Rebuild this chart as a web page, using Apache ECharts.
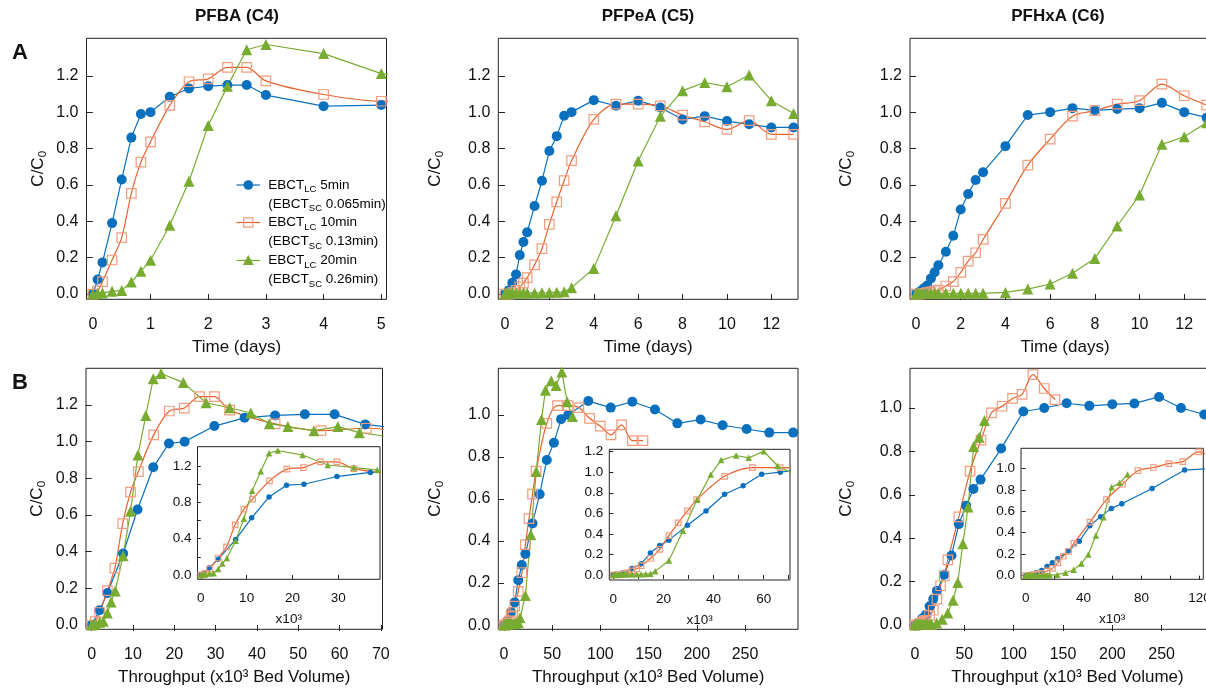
<!DOCTYPE html>
<html><head><meta charset="utf-8">
<script src="https://cdn.jsdelivr.net/npm/echarts@6/dist/echarts.min.js"></script>
<style>html,body{margin:0;padding:0;background:#fff}#c{width:1206px;height:689px}</style>
</head><body><div id="c"></div>
<script>
// ---------------- DATA ----------------
// PFBA (C4)
const pfbaBlueT   = [0,0.083,0.167,0.333,0.5,0.667,0.833,1,1.333,1.667,2,2.333,2.667,3,4,5];
const pfbaBlueBV  = [0,1.9,3.8,7.6,11.1,14.9,18.7,22.5,29.7,37.0,44.4,51.6,58.8,66.2,88.7,110.9];
const pfbaBlueC   = [0,0.08,0.174,0.39,0.63,0.86,0.99,1.0,1.085,1.13,1.143,1.149,1.149,1.094,1.033,1.039];
const pfbaOrangeT  = [0,0.083,0.167,0.333,0.5,0.667,0.833,1,1.333,1.667,2,2.333,2.667,3,4,5,6,7];
const pfbaOrangeBV = [0,0.9,1.9,3.8,5.6,7.5,9.4,11.3,15.0,18.8,22.4,26.1,29.7,33.4,44.4,55.5,66.5,77.5];
const pfbaOrangeC  = [0,0.018,0.068,0.187,0.31,0.553,0.725,0.837,1.037,1.167,1.183,1.246,1.246,1.172,1.097,1.06,1.073,1.05];
const pfbaGreenT  = [0,0.083,0.167,0.333,0.5,0.667,0.833,1,1.333,1.667,2,2.333,2.667,3,4,5,6,7,8,9,10,11,12,13];
const pfbaGreenBV = [0,0.5,0.9,1.9,2.8,3.8,4.7,5.7,7.6,9.4,11.2,13.1,14.9,16.8,22.2,27.7,33.4,38.5,43.0,47.5,53.8,59.6,64.8,71.0];
const pfbaGreenC  = [0,0.004,0.006,0.015,0.02,0.066,0.125,0.186,0.378,0.62,0.927,1.143,1.343,1.372,1.322,1.212,1.185,1.156,1.098,1.082,1.06,1.082,1.049,1.03];

// PFPeA (C5)
const pfpeaBlueT  = [0,0.083,0.167,0.333,0.5,0.667,0.833,1,1.333,1.667,2,2.333,2.667,3,4,5,6,7,8,9,10,11,12,13];
const pfpeaBlueBV = [0,1.9,3.7,7.4,11.1,14.8,18.5,22.2,29.6,37.0,44.4,51.8,59.2,66.6,87.5,110.7,133.1,156.6,179.8,204.0,226.8,251.7,275.2,300.0];
const pfpeaBlueC  = [0,0.005,0.02,0.062,0.108,0.214,0.286,0.339,0.484,0.623,0.786,0.868,0.98,1.0,1.066,1.035,1.063,1.026,0.96,0.978,0.951,0.933,0.916,0.916];
const pfpeaOrangeT  = [0,0.167,0.333,0.5,0.667,0.833,1,1.333,1.667,2,2.333,2.667,3,4,5,6,7,8,9,10,11,12,13];
const pfpeaOrangeBV = [0,1.9,3.7,5.6,7.4,9.3,11.1,14.8,18.5,22.2,25.9,29.6,33.3,44.4,55.5,66.6,77.7,88.8,99.9,111.0,122.0,133.1,144.2];
const pfpeaOrangeC  = [0,0.0,0.008,0.02,0.04,0.06,0.09,0.16,0.25,0.383,0.507,0.623,0.733,0.96,1.044,1.044,1.035,0.984,0.947,0.905,0.953,0.878,0.878];
const pfpeaGreenT  = [0,0.083,0.167,0.333,0.5,0.667,0.833,1,1.333,1.667,2,2.333,2.667,3,4,5,6,7,8,9,10,11,12,13];
const pfpeaGreenBV = [0,0.5,0.9,1.9,2.8,3.7,4.6,5.6,7.4,9.3,11.1,13.0,14.8,16.7,22.2,27.8,33.4,38.9,43.0,49.0,54.0,60.0,65.5,71.0];
const pfpeaGreenC  = [0,0.004,0.005,0.005,0.005,0.006,0.006,0.006,0.006,0.007,0.008,0.01,0.012,0.035,0.141,0.43,0.731,0.978,1.118,1.163,1.14,1.204,1.063,0.993];

// PFHxA (C6)
const pfhxaBlueT  = [0,0.083,0.167,0.333,0.5,0.667,0.833,1,1.333,1.667,2,2.333,2.667,3,4,5,6,7,8,9,10,11,12,13];
const pfhxaBlueBV = [0,1.9,3.7,7.4,11.1,14.8,18.5,22.2,29.6,37.0,44.4,51.8,59.2,66.4,87.3,109.8,131.0,153.7,176.7,200.0,222.3,247.3,269.6,293.2];
const pfhxaBlueC  = [0,0.005,0.012,0.03,0.047,0.086,0.12,0.158,0.232,0.32,0.465,0.55,0.627,0.67,0.813,0.984,1.0,1.022,1.01,1.017,1.021,1.051,1.0,0.97];
const pfhxaOrangeT  = [0,0.167,0.333,0.5,0.667,0.833,1,1.333,1.667,2,2.333,2.667,3,4,5,6,7,8,9,10,11,12,13];
const pfhxaOrangeBV = [0,1.9,3.7,5.6,7.4,9.3,11.1,14.8,18.5,22.2,25.9,29.6,33.3,44.4,55.8,66.9,77.5,88.2,98.9,108.5,119.5,131.0,141.9];
const pfhxaOrangeC  = [0,0.0,0.003,0.008,0.012,0.018,0.022,0.044,0.068,0.119,0.181,0.227,0.30,0.498,0.709,0.852,0.978,1.008,1.044,1.063,1.154,1.09,1.039];
const pfhxaGreenT  = [0,0.083,0.167,0.333,0.5,0.667,0.833,1,1.333,1.667,2,2.333,2.667,3,4,5,6,7,8,9,10,11,12,13];
const pfhxaGreenBV = [0,0.5,0.9,1.9,2.8,3.7,4.6,5.6,7.4,9.3,11.1,13.0,14.8,16.7,21.9,27.5,33.2,38.5,43.3,48.5,53.8,59.4,65.0,70.4];
const pfhxaGreenC  = [0,0.003,0.004,0.004,0.004,0.004,0.004,0.004,0.004,0.004,0.004,0.004,0.004,0.004,0.009,0.027,0.055,0.114,0.196,0.374,0.544,0.823,0.865,0.942];

// Tick values / labels
const timeTicksC4 = [0,1,2,3,4,5];
const timeTicksC56 = [0,2,4,6,8,10,12];
const yTicks12 = [0,0.2,0.4,0.6,0.8,1.0,1.2];
const yTicks10 = [0,0.2,0.4,0.6,0.8,1.0];
const tpTicksC4 = [0,10,20,30,40,50,60,70];
const tpTicksC56 = [0,50,100,150,200,250];
const insetXTicksC4 = [0,10,20,30];
const insetYLabelsC4 = [0,0.4,0.8,1.2];
const insetXTicksC5 = [0,10,20,30,40,50,60,70];
const insetXLabelsC5 = [0,20,40,60];
const insetXTicksC6 = [0,20,40,60,80,100,120];
const insetXLabelsC6 = [0,40,80,120];

const titles = ['PFBA (C4)','PFPeA (C5)','PFHxA (C6)'];
const legendLines = [
  ['EBCT','LC',' 5min','(EBCT','SC',' 0.065min)'],
  ['EBCT','LC',' 10min','(EBCT','SC',' 0.13min)'],
  ['EBCT','LC',' 20min','(EBCT','SC',' 0.26min)']
];

// ---------------- STYLE / LAYOUT ----------------
const FF = "'Liberation Sans', Arial, Helvetica, sans-serif";
const C_BLUE = '#0A70BD', C_OR = '#E8612C', C_SQ = '#F29C7E', C_GR = '#77AC30', C_AX = '#222';

const PFBA = {blue:{t:pfbaBlueT,bv:pfbaBlueBV,c:pfbaBlueC}, orange:{t:pfbaOrangeT,bv:pfbaOrangeBV,c:pfbaOrangeC}, green:{t:pfbaGreenT,bv:pfbaGreenBV,c:pfbaGreenC}};
const PFPeA = {blue:{t:pfpeaBlueT,bv:pfpeaBlueBV,c:pfpeaBlueC}, orange:{t:pfpeaOrangeT,bv:pfpeaOrangeBV,c:pfpeaOrangeC}, green:{t:pfpeaGreenT,bv:pfpeaGreenBV,c:pfpeaGreenC}};
const PFHxA = {blue:{t:pfhxaBlueT,bv:pfhxaBlueBV,c:pfhxaBlueC}, orange:{t:pfhxaOrangeT,bv:pfhxaOrangeBV,c:pfhxaOrangeC}, green:{t:pfhxaGreenT,bv:pfhxaGreenBV,c:pfhxaGreenC}};

const TIME = 'Time (days)';
const TP = 'Throughput (x10\u00B3 Bed Volume)';
const panels = [
  {rect:[86.5,38.3,300,261], xr:[-0.11,5.09], yr:[-0.029,1.406], xt:timeTicksC4, xl:timeTicksC4, yt:yTicks12, yl:yTicks12, xname:TIME, xGap:40, yGap:38, key:'t', d:PFBA},
  {rect:[498.3,38.3,299.7,261], xr:[-0.30,13.2], yr:[-0.029,1.406], xt:timeTicksC56, xl:timeTicksC56, yt:yTicks12, yl:yTicks12, xname:TIME, xGap:40, yGap:52, key:'t', d:PFPeA},
  {rect:[910,38.3,310,261], xr:[-0.27,13.6], yr:[-0.029,1.406], xt:timeTicksC56, xl:timeTicksC56, yt:yTicks12, yl:yTicks12, xname:TIME, xGap:40, yGap:53, key:'t', d:PFHxA},
  {rect:[86,368.3,296.5,261], xr:[-1.38,70.4], yr:[-0.0235,1.40], xt:tpTicksC4, xl:tpTicksC4, yt:yTicks12, yl:yTicks12, xname:TP, xGap:39.5, yGap:38, key:'bv', d:PFBA},
  {rect:[498.3,368.3,299.7,261], xr:[-5.9,305], yr:[-0.02,1.222], xt:tpTicksC56, xl:tpTicksC56, yt:yTicks10, yl:yTicks10, xname:TP, xGap:39.5, yGap:52, key:'bv', d:PFPeA},
  {rect:[910,368.3,315,261], xr:[-5.07,314.2], yr:[-0.0198,1.183], xt:tpTicksC56, xl:tpTicksC56, yt:yTicks10, yl:yTicks10, xname:TP, xGap:39.5, yGap:53, key:'bv', d:PFHxA},
  {inset:true, rect:[197.5,446.7,182.5,132.6], xr:[-0.72,39.1], yr:[-0.048,1.414], xt:insetXTicksC4, xl:insetXTicksC4, yt:yTicks12, yl:insetYLabelsC4, xname:'x10\u00B3', xGap:33, key:'bv', d:PFBA},
  {inset:true, rect:[609.3,449.3,180.7,130.7], xr:[-1.6,70.5], yr:[-0.049,1.223], xt:insetXTicksC5, xl:insetXLabelsC5, yt:yTicks12, yl:yTicks12, xname:'x10\u00B3', xGap:33, key:'bv', d:PFPeA},
  {inset:true, rect:[1021,448.3,182.3,131], xr:[-3.2,122.7], yr:[-0.034,1.187], xt:insetXTicksC6, xl:insetXLabelsC6, yt:yTicks10, yl:yTicks10, xname:'x10\u00B3', xGap:33, key:'bv', d:PFHxA}
];

const grids = [], xAxes = [], yAxes = [], series = [];
panels.forEach((p, gi) => {
  const ins = !!p.inset;
  grids.push({left:p.rect[0], top:p.rect[1], width:p.rect[2], height:p.rect[3], show:true,
    borderColor:C_AX, borderWidth:1, backgroundColor: ins ? '#fff' : 'transparent',
    z: ins ? 5 : 0, containLabel:false, outerBoundsMode:'none'});
  const fs = ins ? 13.5 : 16;
  const tl = ins ? 4 : 6;
  xAxes.push({type:'value', gridIndex:gi, min:p.xr[0], max:p.xr[1], z: ins ? 7 : 0,
    axisLine:{show:false}, splitLine:{show:false},
    axisTick:{show:true, inside:false, length:tl, customValues:p.xt, lineStyle:{color:C_AX, width:1}},
    axisLabel:{customValues:p.xl, margin: ins ? 12 : 17, fontSize:fs, color:'#111', fontFamily:FF, formatter:v=>String(v)},
    name:p.xname, nameLocation:'middle', nameGap:p.xGap,
    nameTextStyle:{fontSize: ins ? 13.5 : 17, color:'#111', fontFamily:FF}});
  const y = {type:'value', gridIndex:gi, min:p.yr[0], max:p.yr[1], z: ins ? 7 : 0,
    axisLine:{show:false}, splitLine:{show:false},
    axisTick:{show:true, inside:false, length:tl, customValues:p.yt, lineStyle:{color:C_AX, width:1}},
    axisLabel:{customValues:p.yl, margin: ins ? 6 : 8, fontSize:fs, color:'#111', fontFamily:FF, formatter:v=>v.toFixed(1)}};
  if (!ins) {
    y.name = '{m|C/C}{s|0}';
    y.nameLocation = 'middle';
    y.nameRotate = 90;
    y.nameGap = p.yGap;
    y.nameTextStyle = {color:'#111', fontFamily:FF, fontSize:17,
      rich:{m:{fontSize:17, lineHeight:21, fontFamily:FF, color:'#111'},
            s:{fontSize:11.5, lineHeight:11, fontFamily:FF, color:'#111', verticalAlign:'bottom'}}};
  }
  yAxes.push(y);
  const defs = [
    {d:p.d.blue, sym:'circle', size: ins ? 5.5 : 10, line:C_BLUE, fill:C_BLUE, border:C_BLUE, smooth:false},
    {d:p.d.orange, sym:'rect', size: ins ? 5.5 : 9.5, line:C_OR, fill:'rgba(255,255,255,0)', border:C_SQ, smooth:0.3},
    {d:p.d.green, sym:'triangle', size: ins ? 6.5 : 11, line:C_GR, fill:C_GR, border:C_GR, smooth:false}
  ];
  defs.forEach(s => {
    const xs = s.d[p.key];
    series.push({type:'line', xAxisIndex:gi, yAxisIndex:gi, z: ins ? 8 : 2,
      data: xs.map((x,i)=>[x, s.d.c[i]]),
      symbol:s.sym, symbolSize:s.size, showSymbol:true, clip:true, smooth:s.smooth,
      lineStyle:{color:s.line, width:1.2},
      itemStyle:{color:s.fill, borderColor:s.border, borderWidth: s.sym==='rect' ? 1.2 : 0},
      emphasis:{disabled:true}});
  });
});

// legend (panel A, PFBA) & texts
const graphic = [];
const titleX = [237, 648, 1058];
titles.forEach((t,i)=>graphic.push({type:'text', x:titleX[i], y:16, z:100,
  style:{text:t, fill:'#111', font:"bold 17px " + FF, align:'center', verticalAlign:'middle'}}));
graphic.push({type:'text', x:20, y:53, z:100, style:{text:'A', fill:'#111', font:"bold 22px " + FF, align:'center', verticalAlign:'middle'}});
graphic.push({type:'text', x:20, y:383, z:100, style:{text:'B', fill:'#111', font:"bold 22px " + FF, align:'center', verticalAlign:'middle'}});

const legY = [185, 222.5, 260.5];
const legCols = [C_BLUE, C_OR, C_GR];
const legRich = {m:{fontSize:13.5, lineHeight:19, fontFamily:FF, color:'#111'},
                 s:{fontSize:9.5, lineHeight:10, fontFamily:FF, color:'#111', verticalAlign:'bottom'}};
legendLines.forEach((L,i)=>{
  const cy = legY[i], cx = 248.3;
  graphic.push({type:'line', z:100, shape:{x1:236.5, y1:cy, x2:260, y2:cy}, style:{stroke:legCols[i], lineWidth:1.2}});
  if (i===0) graphic.push({type:'circle', z:101, shape:{cx:cx, cy:cy, r:4.8}, style:{fill:C_BLUE}});
  if (i===1) graphic.push({type:'rect', z:101, shape:{x:cx-4.6, y:cy-4.6, width:9.2, height:9.2}, style:{fill:'none', stroke:C_SQ, lineWidth:1.2}});
  if (i===2) graphic.push({type:'polygon', z:101, shape:{points:[[cx,cy-5.5],[cx-5.5,cy+4.5],[cx+5.5,cy+4.5]]}, style:{fill:C_GR}});
  graphic.push({type:'text', z:100, x:268.3, y:cy-9.5, style:{
    text:'{m|'+L[0]+'}{s|'+L[1]+'}{m|'+L[2]+'}\n{m|'+L[3]+'}{s|'+L[4]+'}{m|'+L[5]+'}',
    rich:legRich, align:'left', verticalAlign:'top'}});
});

const chart = echarts.init(document.getElementById('c'), null, {renderer:'canvas'});
chart.setOption({animation:false, backgroundColor:'#fff', grid:grids, xAxis:xAxes, yAxis:yAxes, series:series, graphic:graphic});
</script></body></html>
